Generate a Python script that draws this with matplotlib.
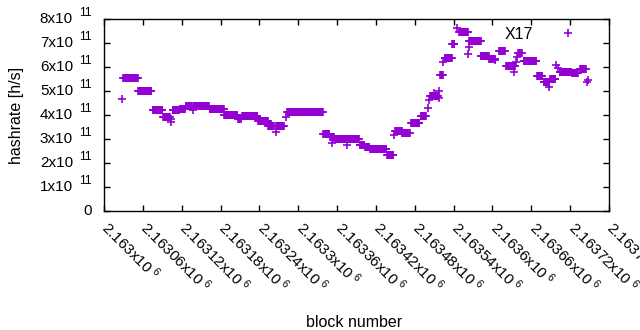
import numpy as np
import matplotlib
matplotlib.use("Agg")
import matplotlib.pyplot as plt

plt.rcParams['font.family'] = ['Liberation Sans', 'DejaVu Sans']
plt.rcParams['mathtext.default'] = 'regular'

BASE = 2163000
# constant-rate runs: (start block offset, end block offset, hashrate in 1e11 h/s)
seg_start = [30, 53, 75, 91, 106, 117, 126, 138, 163, 186, 207, 213, 238, 254, 266, 283,
             339, 349, 356, 395, 403, 411, 437, 450, 461, 474, 489, 504, 519, 526, 538,
             549, 564, 582, 595, 610, 621, 640, 648, 669, 679, 689, 704, 723, 735]
seg_end = [52, 73, 90, 102, 116, 125, 135, 162, 185, 206, 211, 237, 253, 262, 278, 338,
           348, 355, 394, 402, 410, 436, 447, 460, 472, 487, 497, 516, 523, 537, 541,
           562, 582, 594, 604, 619, 635, 645, 668, 677, 688, 697, 722, 732, 744]
seg_rate = [5.53, 4.99, 4.20, 3.93, 4.20, 4.25, 4.37, 4.37, 4.25, 4.00, 3.83, 3.96, 3.75,
            3.54, 3.54, 4.12, 3.21, 3.07, 2.99, 2.75, 2.65, 2.57, 2.35, 3.33, 3.24, 3.65,
            3.96, 4.79, 5.67, 6.36, 6.95, 7.45, 7.07, 6.46, 6.34, 6.67, 6.04, 6.57, 6.24,
            5.63, 5.39, 5.49, 5.78, 5.74, 5.90]
# isolated blocks
pt_block = [28, 103, 104, 137, 265, 281, 352, 375, 448, 500, 502, 510, 518, 517, 524,
            545, 562, 563, 604, 634, 636, 638, 688, 698, 701, 746, 747]
pt_rate = [4.65, 3.82, 3.72, 4.20, 3.30, 3.93, 2.83, 2.75, 3.17, 4.28, 4.62, 4.90, 5.01,
           4.70, 6.22, 7.61, 6.53, 6.82, 6.29, 5.80, 6.22, 6.40, 5.18, 6.08, 5.94, 5.39, 5.45]

xtick_vals = [BASE + 60 * i for i in range(14)]
xtick_labels = ['2.163x10$^{\\ 6}$', '2.16306x10$^{\\ 6}$', '2.16312x10$^{\\ 6}$',
                '2.16318x10$^{\\ 6}$', '2.16324x10$^{\\ 6}$', '2.1633x10$^{\\ 6}$',
                '2.16336x10$^{\\ 6}$', '2.16342x10$^{\\ 6}$', '2.16348x10$^{\\ 6}$',
                '2.16354x10$^{\\ 6}$', '2.1636x10$^{\\ 6}$', '2.16366x10$^{\\ 6}$',
                '2.16372x10$^{\\ 6}$', '2.16378x10$^{\\ 6}$']
ytick_vals = [i * 1e11 for i in range(9)]
ytick_base = ['0'] + ['%dx10' % i for i in range(1, 9)]
ytick_sup = [''] + ['11'] * 8

xs, ys = [], []
for s, e, r in zip(seg_start, seg_end, seg_rate):
    b = np.arange(s, e + 1)
    xs.append(BASE + b)
    ys.append(np.full(len(b), r * 1e11))
xs.append(BASE + np.array(pt_block))
ys.append(np.array(pt_rate) * 1e11)
x = np.concatenate(xs)
y = np.concatenate(ys)

FS = 11
fig = plt.figure(figsize=(6.4, 3.3), dpi=100)
ax = fig.add_axes([104/640, 1 - 211/330, 505/640, 192/330])
ax.plot(x, y, linestyle='none', marker='+', color='#9400D3', markersize=6,
        markeredgewidth=1.2, label='X17')
ax.set_xlim(BASE, BASE + 780)
ax.set_ylim(0, 8e11)
ax.set_xticks(xtick_vals)
ax.set_xticklabels([''] * len(xtick_vals))
xtrans = ax.get_xaxis_transform()
for v, lab in zip(xtick_vals, xtick_labels):
    ax.annotate(lab, xy=(v, 0), xycoords=xtrans, xytext=(1, -13),
                textcoords='offset pixels', rotation=-45, ha='left', va='center',
                rotation_mode='anchor', fontsize=FS, annotation_clip=False)
ax.set_yticks(ytick_vals)
ax.set_yticklabels([''] * len(ytick_vals))
trans = ax.get_yaxis_transform()
for v, b, s in zip(ytick_vals, ytick_base, ytick_sup):
    if s:
        ax.annotate(s, xy=(0, v), xycoords=trans, xytext=(-12, 6),
                    textcoords='offset pixels', ha='right', va='center',
                    fontsize=FS * 0.8, annotation_clip=False)
        ax.annotate(b, xy=(0, v), xycoords=trans, xytext=(-31, 0),
                    textcoords='offset pixels', ha='right', va='center',
                    fontsize=FS, annotation_clip=False)
    else:
        ax.annotate(b, xy=(0, v), xycoords=trans, xytext=(-12, 0),
                    textcoords='offset pixels', ha='right', va='center',
                    fontsize=FS, annotation_clip=False)
ax.tick_params(direction='in', length=4, width=1, top=True, right=True)
for sp in ax.spines.values():
    sp.set_linewidth(1)
ax.set_ylabel('hashrate [h/s]', fontsize=11.5, labelpad=0)
ax.yaxis.set_label_coords(-80/505, 0.5)
ax.set_xlabel('block number', fontsize=11.5)
ax.xaxis.set_label_coords(250/505, -104/192)
leg = ax.legend(loc='upper right', bbox_to_anchor=(0.979, 1.035), frameon=False,
                markerfirst=False, numpoints=1, handlelength=2.0, handletextpad=1.2,
                fontsize=11.5)
fig.savefig('out.png', dpi=100)
